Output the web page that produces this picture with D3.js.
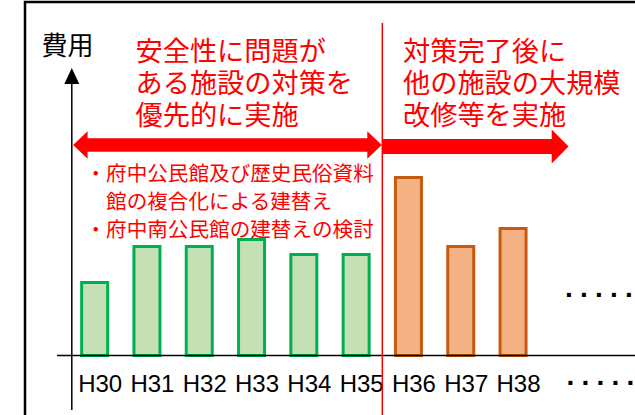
<!DOCTYPE html>
<html><head><meta charset="utf-8">
<script src="https://cdn.jsdelivr.net/npm/d3@7"></script>
<style>
html,body{margin:0;padding:0;background:#fff;overflow:hidden;}
svg{display:block;}
</style></head>
<body>
<script>
// ---- data ----
const categories = ["H30","H31","H32","H33","H34","H35","H36","H37","H38"];
const costValues = [7.3, 10.9, 10.9, 11.6, 10.1, 10.1, 17.8, 10.9, 12.7];
const phases = [1,1,1,1,1,1,2,2,2];
const yAxisLabel = "費用";
const phase1Title = ["安全性に問題が","ある施設の対策を","優先的に実施"];
const phase2Title = ["対策完了後に","他の施設の大規模","改修等を実施"];
const phase1Items = ["・府中公民館及び歴史民俗資料","　館の複合化による建替え","・府中南公民館の建替えの検討"];
const continuationDots = [".",".",".",".","."];

// ---- layout ----
const W = 635, H = 415;
const jpFont = "'Noto Sans CJK JP','Noto Sans',sans-serif";
const latinFont = "'Liberation Sans',Arial,sans-serif";
const red = "#FF0000";
const fills = {1:"#C5E0B4", 2:"#F4B183"};
const strokes = {1:"#00B050", 2:"#C55A11"};

const svg = d3.select("body").append("svg").attr("width", W).attr("height", H);

const x = d3.scaleBand().domain(categories).range([68.5, 539.2])
  .paddingInner(0.503).paddingOuter(0.2515);
const y = d3.scaleLinear().domain([0, 28]).range([355.5, 75.5]);
const step = x.step();

// frame
svg.append("rect").attr("x", 25).attr("y", 2).attr("width", W + 20).attr("height", H + 20)
  .attr("fill", "none").attr("stroke", "#000").attr("stroke-width", 2.5);

// y axis with arrow
const axisX = 71.8;
svg.append("line").attr("x1", axisX).attr("x2", axisX).attr("y1", 82).attr("y2", 410)
  .attr("stroke", "#000").attr("stroke-width", 1.5);
svg.append("path").attr("d", d3.line()([[axisX, 68], [axisX - 7.5, 84], [axisX + 7.5, 84]]) + "Z")
  .attr("fill", "#000");
svg.append("text").attr("x", 41.5).attr("y", 55).text(yAxisLabel)
  .attr("font-family", jpFont).attr("font-size", 26).attr("fill", "#000");

// bars
svg.append("g").selectAll("rect").data(categories).join("rect")
  .attr("x", d => x(d)).attr("width", x.bandwidth())
  .attr("y", (d, i) => y(costValues[i]))
  .attr("height", (d, i) => y(0) - y(costValues[i]))
  .attr("fill", (d, i) => fills[phases[i]])
  .attr("stroke", (d, i) => strokes[phases[i]])
  .attr("stroke-width", 3);

// baseline
svg.append("line").attr("x1", 57).attr("x2", W).attr("y1", y(0)).attr("y2", y(0))
  .attr("stroke", "#000").attr("stroke-width", 1.5);

// x labels
const xAxis = d3.axisBottom(x).tickSize(0).tickPadding(0);
const gx = svg.append("g").attr("transform", `translate(5.5,${y(0)})`).call(xAxis);
gx.select(".domain").remove();
gx.selectAll("text").attr("y", 0).attr("dy", 0)
  .attr("transform", "translate(0,36.5)")
  .attr("font-family", latinFont).attr("font-size", 24).attr("fill", "#000");

// continuation dots
[297, 385].forEach((yy, k) => {
  const t = svg.append("text").attr("x", 565 + k * 1.5).attr("y", yy)
    .attr("font-family", latinFont).attr("font-weight", "bold")
    .attr("font-size", 28).attr("fill", "#000");
  continuationDots.forEach((c, i) => t.append("tspan").attr("dx", i ? 7.2 : 0).text(c));
});

// phase boundary line
const boundary = x(categories[5]) + x.bandwidth() / 2 + step / 2;
svg.append("line").attr("x1", boundary).attr("x2", boundary).attr("y1", 23).attr("y2", H)
  .attr("stroke", red).attr("stroke-width", 1.5);

// titles
function lines(arr, x0, y0, lh, size) {
  const t = svg.append("text").attr("font-family", jpFont).attr("font-size", size).attr("fill", red);
  arr.forEach((s, i) => t.append("tspan").attr("x", x0).attr("y", y0 + i * lh).text(s));
}
lines(phase1Title, 135.5, 61, 31.8, 27.2);
lines(phase2Title, 403, 61, 31.8, 27.2);
lines(phase1Items, 85.5, 180.5, 28.3, 20.6);

// arrows
function arrow(pts) {
  svg.append("path").attr("d", d3.line()(pts) + "Z").attr("fill", red);
}
// double arrow for phase 1
const ay = 145, sh = 6.8, hh = 13.8, hl = 14.5;
const aL = axisX + 1.3, aR = boundary - 0.5;
arrow([[aL, ay], [aL + hl, ay - hh], [aL + hl, ay - sh], [aR - hl, ay - sh], [aR - hl, ay - hh],
       [aR, ay], [aR - hl, ay + hh], [aR - hl, ay + sh], [aL + hl, ay + sh], [aL + hl, ay + hh]]);
// single arrow for phase 2
const by = 146.5, bsh = 7.5, bhh = 17, bhl = 16.8, bL = boundary + 0.5, bR = 568.5;
arrow([[bL, by - bsh], [bR - bhl, by - bsh], [bR - bhl, by - bhh], [bR, by],
       [bR - bhl, by + bhh], [bR - bhl, by + bsh], [bL, by + bsh]]);
</script>
</body></html>
